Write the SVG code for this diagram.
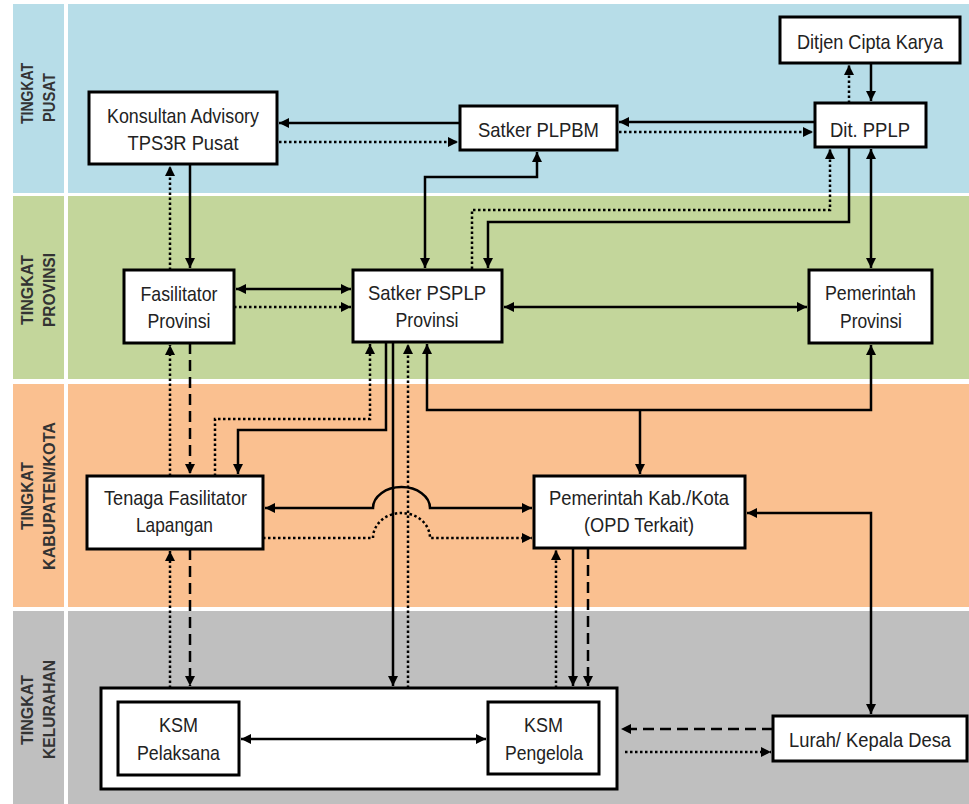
<svg xmlns="http://www.w3.org/2000/svg" width="969" height="804" viewBox="0 0 969 804">
<style>
.node rect{fill:#fff;stroke:#000;stroke-width:3}
.node text{font-family:"Liberation Sans",Arial,sans-serif;font-size:21px;fill:#222;text-anchor:middle}
.band text{font-family:"Liberation Sans",Arial,sans-serif;font-size:17px;font-weight:bold;fill:#333;text-anchor:middle}
#connectors path{fill:none;stroke:#000;stroke-width:2.5}
#connectors .dot{stroke-dasharray:2.5 2.5}
#connectors .dash{stroke-dasharray:11 6}
</style>
<defs>
<marker id="ah" viewBox="0 0 10 10" refX="10" refY="5" markerWidth="10" markerHeight="10" markerUnits="userSpaceOnUse" orient="auto-start-reverse">
<path d="M0,0 L10,5 L0,10 z" fill="#000"/>
</marker>
</defs>
<rect width="969" height="804" fill="#fff"/>
<g id="bands" class="band">
<rect x="13" y="4" width="51" height="189" fill="#B7DDE8"/>
<rect x="68" y="4" width="901" height="189" fill="#B7DDE8"/>
<rect x="13" y="196" width="51" height="183" fill="#C3D69B"/>
<rect x="68" y="196" width="901" height="183" fill="#C3D69B"/>
<rect x="13" y="384" width="51" height="223" fill="#FAC090"/>
<rect x="68" y="384" width="901" height="223" fill="#FAC090"/>
<rect x="13" y="611" width="51" height="193" fill="#BFBFBF"/>
<rect x="68" y="611" width="901" height="193" fill="#BFBFBF"/>
<text transform="translate(33,93.5) rotate(-90)" textLength="61" lengthAdjust="spacingAndGlyphs">TINGKAT</text>
<text transform="translate(55,97.5) rotate(-90)" textLength="49" lengthAdjust="spacingAndGlyphs">PUSAT</text>
<text transform="translate(33,290) rotate(-90)" textLength="70" lengthAdjust="spacingAndGlyphs">TINGKAT</text>
<text transform="translate(55,290) rotate(-90)" textLength="74" lengthAdjust="spacingAndGlyphs">PROVINSI</text>
<text transform="translate(33,496) rotate(-90)" textLength="68" lengthAdjust="spacingAndGlyphs">TINGKAT</text>
<text transform="translate(55,496) rotate(-90)" textLength="148" lengthAdjust="spacingAndGlyphs">KABUPATEN/KOTA</text>
<text transform="translate(33,710) rotate(-90)" textLength="70" lengthAdjust="spacingAndGlyphs">TINGKAT</text>
<text transform="translate(55,709.5) rotate(-90)" textLength="99" lengthAdjust="spacingAndGlyphs">KELURAHAN</text>
</g>
<g id="container" class="node"><rect x="101" y="688" width="516" height="101"/></g>
<g id="konsultan" class="node"><rect x="89" y="92" width="188" height="72"/>
<text x="183" y="123" textLength="152" lengthAdjust="spacingAndGlyphs">Konsultan Advisory</text>
<text x="183" y="150" textLength="111" lengthAdjust="spacingAndGlyphs">TPS3R Pusat</text></g>
<g id="satker-plpbm" class="node"><rect x="460" y="106" width="157" height="44"/>
<text x="538.5" y="137" textLength="121" lengthAdjust="spacingAndGlyphs">Satker PLPBM</text></g>
<g id="ditjen" class="node"><rect x="780" y="17" width="180" height="46"/>
<text x="870" y="49" textLength="146" lengthAdjust="spacingAndGlyphs">Ditjen Cipta Karya</text></g>
<g id="dit-pplp" class="node"><rect x="815" y="103" width="111" height="44"/>
<text x="870" y="137" textLength="80" lengthAdjust="spacingAndGlyphs">Dit. PPLP</text></g>
<g id="fasilitator" class="node"><rect x="124" y="270" width="110" height="73"/>
<text x="179" y="301" textLength="77" lengthAdjust="spacingAndGlyphs">Fasilitator</text>
<text x="179" y="328" textLength="63" lengthAdjust="spacingAndGlyphs">Provinsi</text></g>
<g id="satker-psplp" class="node"><rect x="353" y="270" width="149" height="72"/>
<text x="427" y="300" textLength="118" lengthAdjust="spacingAndGlyphs">Satker PSPLP</text>
<text x="427" y="327" textLength="63" lengthAdjust="spacingAndGlyphs">Provinsi</text></g>
<g id="pemprov" class="node"><rect x="809" y="270" width="123" height="73"/>
<text x="870.5" y="300" textLength="91" lengthAdjust="spacingAndGlyphs">Pemerintah</text>
<text x="871" y="328" textLength="62" lengthAdjust="spacingAndGlyphs">Provinsi</text></g>
<g id="tfl" class="node"><rect x="87" y="476" width="176" height="73"/>
<text x="175.5" y="505" textLength="143" lengthAdjust="spacingAndGlyphs">Tenaga Fasilitator</text>
<text x="174.5" y="532" textLength="77" lengthAdjust="spacingAndGlyphs">Lapangan</text></g>
<g id="pemkab" class="node"><rect x="534" y="476" width="211" height="72"/>
<text x="639" y="505" textLength="180" lengthAdjust="spacingAndGlyphs">Pemerintah  Kab./Kota</text>
<text x="639" y="532" textLength="110" lengthAdjust="spacingAndGlyphs">(OPD Terkait)</text></g>
<g id="ksm-pelaksana" class="node"><rect x="118" y="702" width="121" height="73"/>
<text x="178.5" y="732" textLength="39" lengthAdjust="spacingAndGlyphs">KSM</text>
<text x="178.5" y="760" textLength="83" lengthAdjust="spacingAndGlyphs">Pelaksana</text></g>
<g id="ksm-pengelola" class="node"><rect x="488" y="702" width="111" height="72"/>
<text x="543.5" y="732" textLength="39" lengthAdjust="spacingAndGlyphs">KSM</text>
<text x="544" y="760" textLength="78" lengthAdjust="spacingAndGlyphs">Pengelola</text></g>
<g id="lurah" class="node"><rect x="773" y="716" width="194" height="45"/>
<text x="870" y="747" textLength="162" lengthAdjust="spacingAndGlyphs">Lurah/ Kepala Desa</text></g>
<g id="connectors">
<path d="M460,123 H279" marker-end="url(#ah)"/>
<path class="dot" d="M279,142 H458" marker-end="url(#ah)"/>
<path d="M815,122 H619" marker-end="url(#ah)"/>
<path class="dot" d="M619,132 H813" marker-end="url(#ah)"/>
<path class="dot" d="M849,103 V65" marker-end="url(#ah)"/>
<path d="M871,63 V101" marker-end="url(#ah)"/>
<path class="dot" d="M472,269 V210 H830 V149" marker-end="url(#ah)"/>
<path d="M849,147 V222 H488 V268" marker-end="url(#ah)"/>
<path d="M871,149 V268" marker-start="url(#ah)" marker-end="url(#ah)"/>
<path d="M425,268 V177 H537 V152" marker-start="url(#ah)" marker-end="url(#ah)"/>
<path d="M190,164 V268" marker-end="url(#ah)"/>
<path class="dot" d="M170,270 V166" marker-end="url(#ah)"/>
<path d="M236,289 H351" marker-start="url(#ah)" marker-end="url(#ah)"/>
<path class="dot" d="M234,307 H351" marker-end="url(#ah)"/>
<path d="M504,307 H807" marker-start="url(#ah)" marker-end="url(#ah)"/>
<path class="dot" d="M170,476 V345" marker-end="url(#ah)"/>
<path class="dash" d="M190,343 V474" marker-end="url(#ah)"/>
<path class="dot" d="M170,688 V551" marker-end="url(#ah)"/>
<path class="dash" d="M190,549 V686" marker-end="url(#ah)"/>
<path class="dot" d="M215,476 V419 H370 V344" marker-end="url(#ah)"/>
<path d="M386,342 V430 H238 V474" marker-end="url(#ah)"/>
<path d="M393,342 V686" marker-end="url(#ah)"/>
<path class="dot" d="M408,688 V344" marker-end="url(#ah)"/>
<path d="M427,344 V410 H871 V345" marker-start="url(#ah)" marker-end="url(#ah)"/>
<path d="M640,410 V474" marker-end="url(#ah)"/>
<path d="M265,508 H373 A28.5,21 0 0 1 430,508 H532" marker-start="url(#ah)" marker-end="url(#ah)"/>
<path class="dot" d="M263,538 H373 A28.5,25 0 0 1 430,538 H532" marker-end="url(#ah)"/>
<path d="M747,513 H871 V714" marker-start="url(#ah)" marker-end="url(#ah)"/>
<path class="dot" d="M556,688 V550" marker-end="url(#ah)"/>
<path d="M573,548 V686" marker-end="url(#ah)"/>
<path class="dash" d="M588,548 V686" marker-end="url(#ah)"/>
<path d="M241,739 H486" marker-start="url(#ah)" marker-end="url(#ah)"/>
<path class="dash" d="M773,729 H621" marker-end="url(#ah)"/>
<path class="dot" d="M625,752 H771" marker-end="url(#ah)"/>
</g>
</svg>
